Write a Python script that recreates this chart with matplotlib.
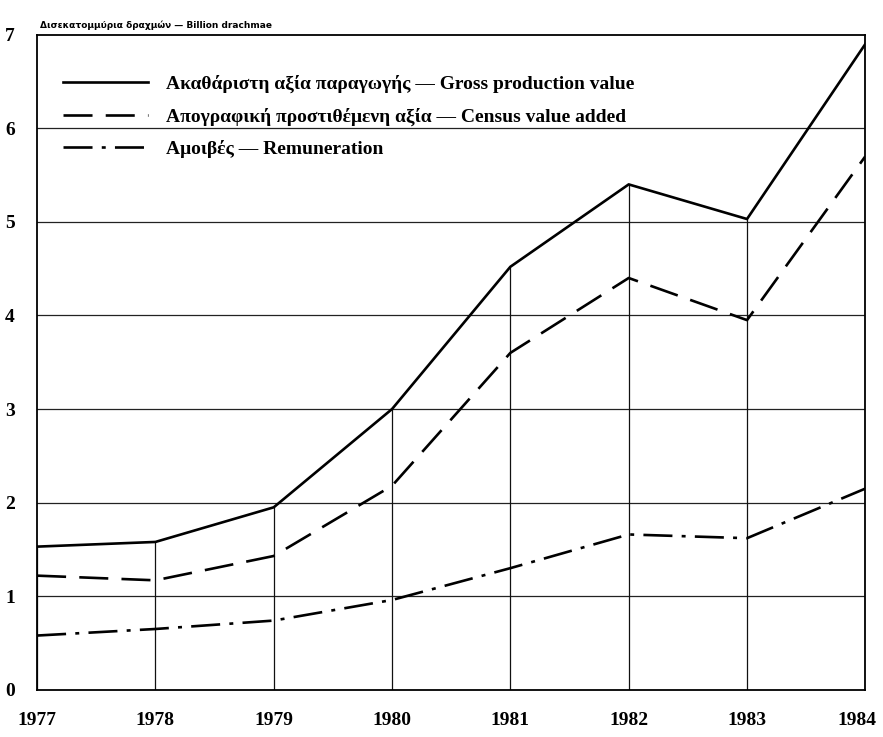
import matplotlib.pyplot as plt
import matplotlib.transforms as mtransforms
import numpy as np

years = [1977, 1978, 1979, 1980, 1981, 1982, 1983, 1984]
gross = [1.53, 1.58, 1.95, 3.0, 4.52, 5.4, 5.03, 6.9]
census = [1.22, 1.17, 1.43, 2.18, 3.6, 4.4, 3.95, 5.7]
remun = [0.58, 0.65, 0.74, 0.96, 1.3, 1.66, 1.62, 2.15]

labels = ['Ακαθάριστη αξία παραγωγής — Gross production value',
          'Απογραφική προστιθέμενη αξία — Census value added',
          'Αμοιβές — Remuneration']
unit = 'Δισεκατομμύρια δραχμών — Billion drachmae'

serif = ['Liberation Serif', 'DejaVu Serif']

fig = plt.figure(figsize=(8.83, 7.37), dpi=100)
ax = fig.add_axes([0.042, 0.064, 0.938, 0.889])

# horizontal grid and drop lines from each year up to the gross line
for v in range(1, 7):
    ax.axhline(v, color='#222222', lw=0.9, zorder=1)
ax.vlines(years, 0, gross, color='#111111', lw=0.9, zorder=1)

ax.plot(years, gross, color='black', lw=1.9, label=labels[0], zorder=3)
ax.plot(years, census, color='black', lw=1.9, dashes=(11, 5), label=labels[1], zorder=3)
ax.plot(years, remun, color='black', lw=1.9, dashes=(11, 3.5, 1.5, 3.5), label=labels[2], zorder=3)

ax.set_xlim(1977, 1984)
ax.set_ylim(0, 7)
ax.set_xticks(years)
ax.set_yticks(range(0, 8))
ax.tick_params(length=0)
ax.tick_params(axis='x', pad=16)
ax.tick_params(axis='y', pad=16)
for t in ax.get_xticklabels() + ax.get_yticklabels():
    t.set_family(serif)
    t.set_fontweight('bold')
    t.set_fontsize(14)

# last year label sits a bit inside the edge
last = ax.get_xticklabels()[-1]
last.set_transform(last.get_transform() +
                   mtransforms.ScaledTranslation(-0.08, 0, fig.dpi_scale_trans))

for s in ax.spines.values():
    s.set_linewidth(1.3)

fig.text(0.045, 0.962, unit, fontsize=6.5, fontweight='bold', family=['DejaVu Sans'])

leg = ax.legend(loc='upper left', bbox_to_anchor=(0.01, 0.965), frameon=False,
                handlelength=4.4, handletextpad=0.9, labelspacing=0.72,
                prop={'family': serif, 'weight': 'bold', 'size': 14})

fig.savefig('out.png', dpi=100)
